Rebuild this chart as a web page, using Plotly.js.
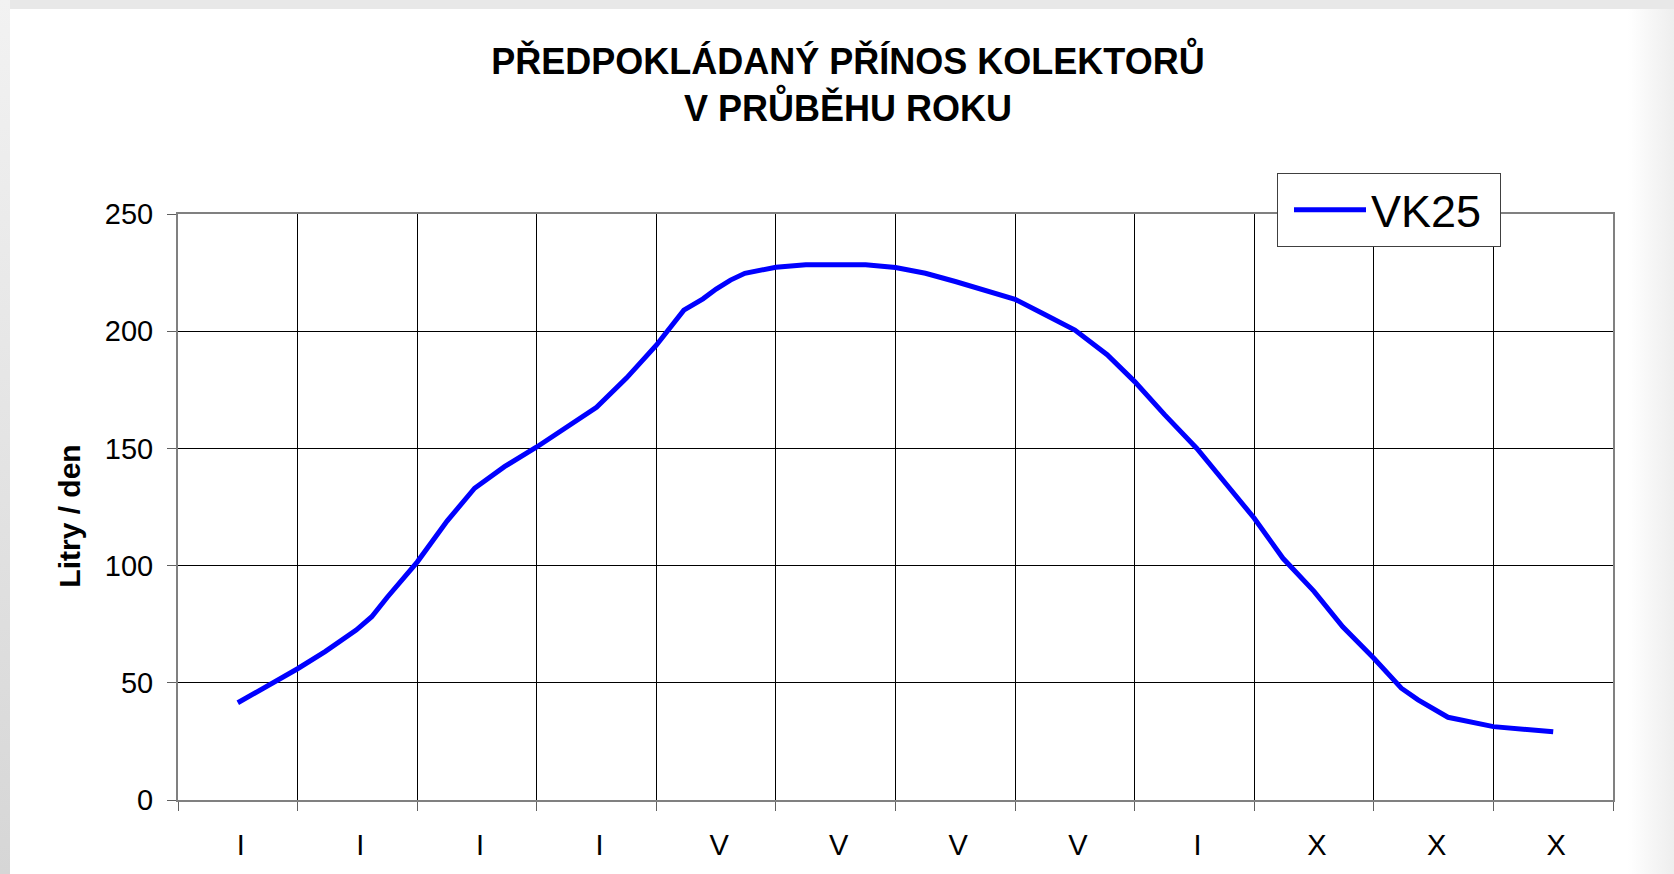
<!DOCTYPE html>
<html>
<head>
<meta charset="utf-8">
<script src="https://cdn.plot.ly/plotly-3.0.1.min.js"></script>
<style>
  html, body { margin: 0; padding: 0; }
  #wrap { position: relative; width: 1674px; height: 874px; background: #e8e8e8; overflow: hidden; }
  #leftstrip { position: absolute; left: 0; top: 0; width: 10px; height: 874px; background: linear-gradient(#f2f2f2, #d6d6d6); }
  #panel { position: absolute; left: 10px; top: 9px; width: 1664px; height: 865px; background: #ffffff; }
  #rightfade { position: absolute; right: 0; top: 9px; width: 46px; height: 865px; background: linear-gradient(to right, rgba(238,238,238,0), #eeeeee); }
  #chart { position: absolute; left: 0; top: 0; width: 1674px; height: 874px; }
</style>
</head>
<body>
<div id="wrap">
  <div id="leftstrip"></div>
  <div id="panel"></div>
  <div id="rightfade"></div>
  <div id="chart"></div>
</div>
<script>
// Month position (1 = centre of first month slot) and litres per day
const monthPos = [1.0, 1.25, 1.5, 1.73, 1.99, 2.12, 2.25, 2.5, 2.75, 2.98,
                  3.23, 3.5, 3.72, 4.0, 4.25, 4.5, 4.73, 4.89, 5.0, 5.12,
                  5.24, 5.5, 5.75, 6.0, 6.25, 6.5, 6.75, 7.0, 7.25, 7.5,
                  7.74, 8.0, 8.27, 8.5, 8.75, 9.02, 9.27, 9.5, 9.74, 10.0,
                  10.24, 10.5, 10.73, 10.87, 11.12, 11.5, 12.0];
const vk25 = [41.5, 48.5, 56, 63.3, 72.5, 78.2, 86.5, 101.5, 119, 133,
              142.2, 150.6, 157.8, 167.5, 180, 194, 209, 213.8, 218, 221.8,
              224.7, 227.3, 228.3, 228.3, 228.3, 227.2, 224.7, 221.2, 217.5, 213.6,
              207.3, 200.5, 190, 178.5, 164.4, 150, 134.5, 120.2, 103.1, 89,
              73.9, 60.5, 47.7, 42.7, 35.3, 31.3, 29.1];
const monthLabels = ['I', 'I', 'I', 'I', 'V', 'V', 'V', 'V', 'I', 'X', 'X', 'X'];
const monthCentres = [1, 2, 3, 4, 5, 6, 7, 8, 9, 10, 11, 12];
const seriesName = 'VK25';
const chartTitle = 'PŘEDPOKLÁDANÝ PŘÍNOS KOLEKTORŮ<br>V PRŮBĚHU ROKU';
const yTitle = 'Litry / den';

const FONT = 'Liberation Sans, Arial, sans-serif';

const trace = {
  x: monthPos,
  y: vk25,
  type: 'scatter',
  mode: 'lines',
  name: seriesName,
  line: { color: '#0000ff', width: 5 },
  hoverinfo: 'x+y'
};

const layout = {
  width: 1674,
  height: 874,
  paper_bgcolor: 'rgba(0,0,0,0)',
  plot_bgcolor: '#ffffff',
  margin: { l: 178, r: 61, t: 214, b: 74 },
  font: { family: FONT, color: '#000000' },
  title: {
    text: chartTitle,
    font: { family: FONT, size: 36, weight: 'bold', color: '#000000' },
    xref: 'container', x: 848 / 1674, xanchor: 'center',
    yref: 'container', y: 1 - 74 / 874, yanchor: 'top'
  },
  showlegend: true,
  legend: {
    x: (1277 - 178) / 1435, xanchor: 'left',
    y: (800 - 173) / 586, yanchor: 'top',
    bgcolor: '#ffffff',
    bordercolor: '#404040',
    borderwidth: 1,
    font: { family: FONT, size: 45, color: '#000000' },
    itemwidth: 72
  },
  xaxis: {
    range: [0.5, 12.5],
    tickmode: 'array',
    tickvals: monthCentres,
    ticktext: monthLabels,
    ticks: '',
    showgrid: false,
    zeroline: false,
    showline: true,
    linecolor: '#808080',
    linewidth: 2,
    mirror: true,
    tickfont: { family: FONT, size: 29, color: '#000000' },
    ticklabelstandoff: 18,
    ticklabelshift: 3,
    minor: {
      tick0: 0.5,
      dtick: 1,
      ticks: 'outside',
      ticklen: 9,
      tickwidth: 1,
      tickcolor: '#606060',
      showgrid: true,
      gridcolor: '#000000',
      gridwidth: 1
    },
    fixedrange: true
  },
  yaxis: {
    range: [0, 250],
    tick0: 0,
    dtick: 50,
    ticks: 'outside',
    ticklen: 9,
    tickwidth: 1,
    tickcolor: '#606060',
    showgrid: true,
    gridcolor: '#000000',
    gridwidth: 1,
    zeroline: false,
    showline: true,
    linecolor: '#808080',
    linewidth: 2,
    mirror: true,
    tickfont: { family: FONT, size: 29, color: '#000000' },
    ticklabelstandoff: 8,
    title: {
      text: yTitle,
      font: { family: FONT, size: 30, weight: 'bold', color: '#000000' },
      standoff: 15
    },
    fixedrange: true
  }
};

Plotly.newPlot('chart', [trace], layout, { displayModeBar: false, staticPlot: true }).then(function (gd) {
  // widen the legend box and move its entry right to match the reference proportions
  var leg = gd.querySelector('.legend');
  if (leg) {
    var extraW = 24, shift = 11;
    var bg = leg.querySelector('rect.bg');
    if (bg) bg.setAttribute('width', parseFloat(bg.getAttribute('width')) + extraW);
    var clips = gd.querySelectorAll('clipPath[id^="legend"] rect');
    clips.forEach(function (r) { r.setAttribute('width', parseFloat(r.getAttribute('width')) + extraW); });
    var tr = leg.querySelector('.traces');
    if (tr) {
      var t = tr.getAttribute('transform') || '';
      var m = /translate\(\s*([-\d.]+)[ ,]+([-\d.]+)\s*\)/.exec(t);
      var x0 = m ? parseFloat(m[1]) : 0, y0 = m ? parseFloat(m[2]) : 0;
      tr.setAttribute('transform', 'translate(' + (x0 + shift) + ',' + y0 + ')');
    }
  }
  // the reference's axis title sits slightly below the plot centre
  var yt = gd.querySelector('.g-ytitle');
  if (yt) {
    var old = yt.getAttribute('transform') || '';
    yt.setAttribute('transform', 'translate(0,9) ' + old);
  }
});
</script>
</body>
</html>
